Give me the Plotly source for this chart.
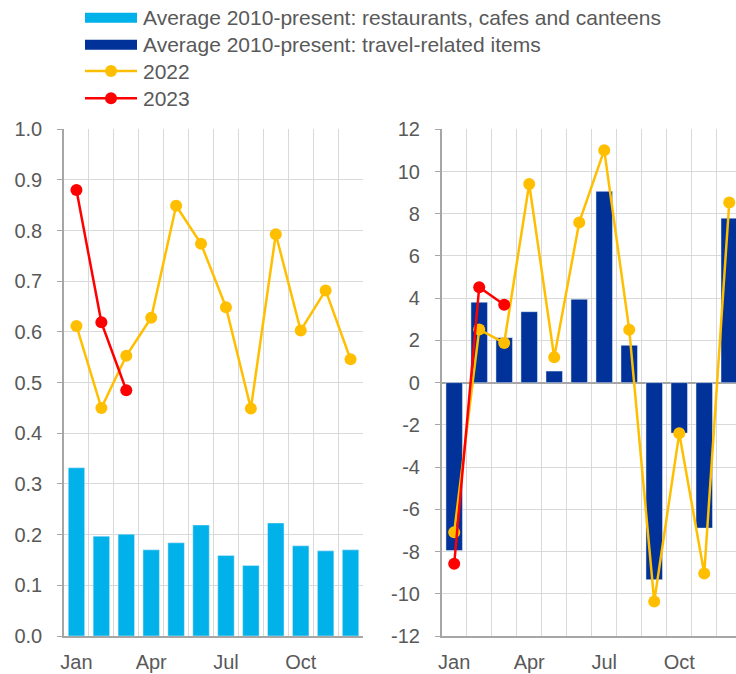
import plotly.graph_objects as go

months = ["Jan", "Feb", "Mar", "Apr", "May", "Jun", "Jul", "Aug", "Sep", "Oct", "Nov", "Dec"]
tick_months = ["Jan", "Apr", "Jul", "Oct"]

# Left panel: restaurants, cafes and canteens
rest_avg = [0.332, 0.197, 0.201, 0.170, 0.184, 0.219, 0.159, 0.139, 0.223, 0.178, 0.168, 0.170]
rest_2022 = [0.612, 0.450, 0.553, 0.628, 0.849, 0.774, 0.649, 0.449, 0.793, 0.603, 0.682, 0.546]
rest_2023 = [0.880, 0.619, 0.485]

# Right panel: travel-related items
travel_avg = [-7.95, 3.81, 2.13, 3.36, 0.55, 3.95, 9.06, 1.77, -9.33, -2.39, -6.89, 7.79]
travel_2022 = [-7.09, 2.52, 1.88, 9.41, 1.20, 7.59, 11.01, 2.51, -10.37, -2.40, -9.04, 8.53]
travel_2023 = [-8.58, 4.52, 3.69]

right_ticks = [-12, -10, -8, -6, -4, -2, 0, 2, 4, 6, 8, 10, 12]
right_ticktext = ["-12", "-10", "-8", "-6", "-4", "-2", "0", "2", "4", "6", "8", "10", "12"]

legend_labels = ["Average 2010-present: restaurants, cafes and canteens",
                 "Average 2010-present: travel-related items",
                 "2022", "2023"]

LIGHT = "#00B1EA"
DARK = "#003299"
YELLOW = "#FFBF00"
RED = "#FF0000"
TXT = "#595959"
GRID = "#D9D9D9"
AXIS = "#A6A6A6"
FS = 20
LFS = 21

xpos = list(range(len(months)))
xpos23 = xpos[:len(rest_2023)]
tickvals = [months.index(m) for m in tick_months]

fig = go.Figure()
fig.add_trace(go.Bar(x=xpos, y=rest_avg, marker_color=LIGHT, width=0.66,
                     name=legend_labels[0], xaxis="x", yaxis="y"))
fig.add_trace(go.Bar(x=xpos, y=travel_avg, marker_color=DARK, width=0.66,
                     name=legend_labels[1], xaxis="x2", yaxis="y2"))
for xa, ya, d22, d23 in [("x", "y", rest_2022, rest_2023), ("x2", "y2", travel_2022, travel_2023)]:
    fig.add_trace(go.Scatter(x=xpos, y=d22, mode="lines+markers", name="2022",
                             line=dict(color=YELLOW, width=2.5),
                             marker=dict(size=12, color=YELLOW), xaxis=xa, yaxis=ya))
    fig.add_trace(go.Scatter(x=xpos23, y=d23, mode="lines+markers", name="2023",
                             line=dict(color=RED, width=2.5),
                             marker=dict(size=12, color=RED), xaxis=xa, yaxis=ya))

W, H = 736, 674
ydom = [38 / H, 544.7 / H]

xcommon = dict(tickmode="array", tickvals=tickvals, ticktext=tick_months, showgrid=False,
               showline=True, linecolor=AXIS, linewidth=1.5, ticks="", zeroline=False,
               automargin=False, ticklabelstandoff=7,
               tickfont=dict(size=FS, color=TXT),
               minor=dict(tick0=0.5, dtick=1, showgrid=True, gridcolor=GRID, gridwidth=1, ticks=""))
ycommon = dict(showgrid=True, gridcolor=GRID, gridwidth=1, showline=True, linecolor=AXIS,
               linewidth=1.5, ticks="outside", ticklen=5, tickcolor=AXIS, automargin=False,
               ticklabelstandoff=11, tickfont=dict(size=FS, color=TXT), domain=ydom)

# Manual legend (wide bar swatches as in the original)
sw_x0, sw_x1 = 85 / W, 137 / W
txt_x = 140.5 / W
rows = [17.7, 44.7, 71, 98.3]
shapes = []
annotations = []
for i, (lab, col) in enumerate(zip(legend_labels, [LIGHT, DARK, YELLOW, RED])):
    yc = 1 - rows[i] / H
    if i < 2:
        shapes.append(dict(type="rect", xref="paper", yref="paper", x0=sw_x0, x1=sw_x1,
                           y0=yc - 5 / H, y1=yc + 5 / H, fillcolor=col, line=dict(width=0)))
    else:
        shapes.append(dict(type="line", xref="paper", yref="paper", x0=sw_x0, x1=sw_x1,
                           y0=yc, y1=yc, line=dict(color=col, width=2.5)))
        cx = (sw_x0 + sw_x1) / 2
        shapes.append(dict(type="circle", xref="paper", yref="paper",
                           x0=cx - 6 / W, x1=cx + 6 / W, y0=yc - 6 / H, y1=yc + 6 / H,
                           fillcolor=col, line=dict(width=0)))
    annotations.append(dict(text=lab, xref="paper", yref="paper", x=txt_x, y=yc,
                            xanchor="left", yanchor="middle", showarrow=False,
                            font=dict(size=LFS, color=TXT)))

fig.update_layout(
    width=W, height=H,
    margin=dict(l=0, r=0, t=0, b=0, autoexpand=False),
    paper_bgcolor="white", plot_bgcolor="white",
    font=dict(family="Liberation Sans, Arial, sans-serif", size=FS, color=TXT),
    showlegend=False,
    shapes=shapes, annotations=annotations,
    xaxis=dict(domain=[64 / W, 363 / W], range=[-0.5, 11.5], anchor="y", **xcommon),
    yaxis=dict(range=[0, 1.0], dtick=0.1, tickformat=".1f", anchor="x", zeroline=False, **ycommon),
    xaxis2=dict(domain=[441.7 / W, 1.0], range=[-0.5, 11.27], anchor="y2", **xcommon),
    yaxis2=dict(range=[-12, 12], tickmode="array", tickvals=right_ticks, ticktext=right_ticktext,
                anchor="x2", zeroline=True, zerolinecolor=AXIS, zerolinewidth=1.5, **ycommon),
)

# Remove the default 8px page margin so the figure fills the window exactly.
fig.write_html("out.html", config={"displayModeBar": False},
               post_script="document.body.style.margin='0px';document.body.style.overflow='hidden';")
